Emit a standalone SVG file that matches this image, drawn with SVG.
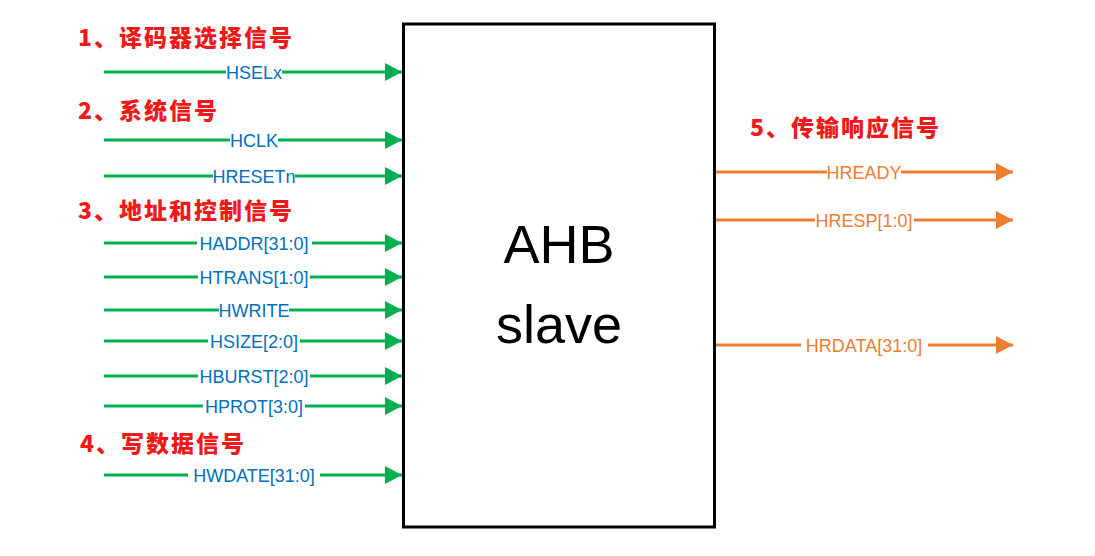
<svg xmlns="http://www.w3.org/2000/svg" width="1095" height="556" viewBox="0 0 1095 556">
<style>
.hd{font-family:"Noto Sans CJK SC","Liberation Sans",sans-serif;font-weight:900;font-size:23px;fill:#F01818;letter-spacing:2px}
.in{stroke:#00B050;stroke-width:3;fill:none}
.out{stroke:#ED7D31;stroke-width:3;fill:none}
.lb{font-family:"Liberation Sans",Arial,sans-serif;font-size:18px;text-anchor:middle}
.bl{fill:#0070C0}
.or{fill:#ED7D31}
.bg{fill:#FFFFFF}
.big{font-family:"Liberation Sans",Arial,sans-serif;font-size:54px;text-anchor:middle;fill:#000}
</style>
<defs>
<marker id="ag" markerUnits="userSpaceOnUse" markerWidth="18" markerHeight="18" refX="17" refY="9" orient="auto"><path d="M0,0 L17,9 L0,18 Z" fill="#00B050"/></marker>
<marker id="ao" markerUnits="userSpaceOnUse" markerWidth="18" markerHeight="18" refX="17" refY="9" orient="auto"><path d="M0,0 L17,9 L0,18 Z" fill="#ED7D31"/></marker>
</defs>
<rect width="1095" height="556" fill="#FFFFFF"/>
<g id="headings">
<text class="hd" x="78" y="46">1、译码器选择信号</text>
<text class="hd" x="78" y="119">2、系统信号</text>
<text class="hd" x="78" y="219">3、地址和控制信号</text>
<text class="hd" x="80" y="452">4、写数据信号</text>
<text class="hd" x="750" y="136">5、传输响应信号</text>
</g>
<g id="connectors">
<line class="in" x1="104" y1="72" x2="402" y2="72" marker-end="url(#ag)"/>
<line class="in" x1="104" y1="140" x2="402" y2="140" marker-end="url(#ag)"/>
<line class="in" x1="104" y1="176" x2="402" y2="176" marker-end="url(#ag)"/>
<line class="in" x1="104" y1="243" x2="402" y2="243" marker-end="url(#ag)"/>
<line class="in" x1="104" y1="277" x2="402" y2="277" marker-end="url(#ag)"/>
<line class="in" x1="104" y1="310" x2="402" y2="310" marker-end="url(#ag)"/>
<line class="in" x1="104" y1="341" x2="402" y2="341" marker-end="url(#ag)"/>
<line class="in" x1="104" y1="376" x2="402" y2="376" marker-end="url(#ag)"/>
<line class="in" x1="104" y1="406" x2="402" y2="406" marker-end="url(#ag)"/>
<line class="in" x1="104" y1="475" x2="402" y2="475" marker-end="url(#ag)"/>
<line class="out" x1="715" y1="172" x2="1013" y2="172" marker-end="url(#ao)"/>
<line class="out" x1="715" y1="220" x2="1013" y2="220" marker-end="url(#ao)"/>
<line class="out" x1="715" y1="345" x2="1013" y2="345" marker-end="url(#ao)"/>
</g>
<g id="labels">
<rect class="bg" x="226" y="63" width="56" height="18"/><text class="lb bl" x="254" y="78.5">HSELx</text>
<rect class="bg" x="230" y="131" width="48" height="18"/><text class="lb bl" x="254" y="146.5">HCLK</text>
<rect class="bg" x="213" y="167" width="82" height="18"/><text class="lb bl" x="254" y="182.5">HRESETn</text>
<rect class="bg" x="197" y="234" width="115" height="18"/><text class="lb bl" x="254" y="249.5">HADDR[31:0]</text>
<rect class="bg" x="198" y="268" width="112" height="18"/><text class="lb bl" x="254" y="283.5">HTRANS[1:0]</text>
<rect class="bg" x="219" y="301" width="70" height="18"/><text class="lb bl" x="254" y="316.5">HWRITE</text>
<rect class="bg" x="208" y="332" width="92" height="18"/><text class="lb bl" x="254" y="347.5">HSIZE[2:0]</text>
<rect class="bg" x="198" y="367" width="112" height="18"/><text class="lb bl" x="254" y="382.5">HBURST[2:0]</text>
<rect class="bg" x="203" y="397" width="102" height="18"/><text class="lb bl" x="254" y="412.5">HPROT[3:0]</text>
<rect class="bg" x="188" y="466" width="132" height="18"/><text class="lb bl" x="254" y="481.5">HWDATE[31:0]</text>
<rect class="bg" x="827" y="163" width="74" height="18"/><text class="lb or" x="864" y="178.5">HREADY</text>
<rect class="bg" x="815" y="211" width="99" height="18"/><text class="lb or" x="864" y="226.5">HRESP[1:0]</text>
<rect class="bg" x="801" y="336" width="127" height="18"/><text class="lb or" x="864" y="351.5">HRDATA[31:0]</text>
</g>
<g id="ahb-slave">
<rect x="403.5" y="24" width="311" height="503" fill="none" stroke="#000" stroke-width="3"/>
<text class="big" x="559" y="263">AHB</text>
<text class="big" x="559" y="343">slave</text>
</g>
</svg>
